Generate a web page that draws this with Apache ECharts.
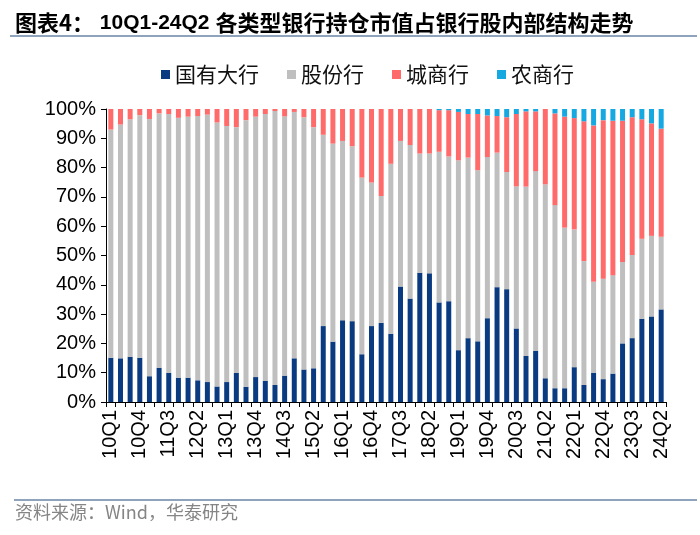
<!DOCTYPE html>
<html><head><meta charset="utf-8">
<script src="https://cdn.jsdelivr.net/npm/echarts@6/dist/echarts.min.js"></script>
<style>html,body{margin:0;padding:0;background:#fff}#c{width:700px;height:535px}</style>
</head><body><div id="c"></div>
<script>
const categories = (function(){const a=[];for(let y=10;y<=24;y++){for(let q=1;q<=4;q++){if(y===24&&q>2)break;a.push(y+'Q'+q);}}return a;})();
const seriesNames = ['国有大行','股份行','城商行','农商行'];
const stateOwned = [15.1,14.9,15.4,15.1,8.8,11.7,9.9,8.3,8.3,7.4,6.8,5.3,6.8,9.9,5.2,8.5,7.2,5.8,9.0,14.9,11.1,11.5,25.9,20.6,27.9,27.6,16.3,25.9,27.0,23.3,39.4,35.3,44.1,43.9,34.0,34.4,17.7,21.8,20.7,28.6,39.2,38.5,25.1,15.7,17.4,8.1,4.7,4.7,11.9,5.8,10.0,7.8,9.7,20.0,21.8,28.4,29.2,31.6];
const jointStock = [77.9,79.8,81.1,82.8,87.8,86.8,88.4,88.7,89.1,90.2,91.3,90.1,87.4,83.9,91.0,88.9,91.1,93.5,88.5,84.1,86.1,82.3,65.3,67.6,61.2,59.7,60.3,49.0,43.3,58.0,49.7,52.4,40.7,40.9,51.4,49.4,64.8,61.6,58.4,55.0,45.9,40.0,48.5,57.8,61.4,66.2,62.5,54.8,47.0,42.3,31.0,34.3,33.6,27.8,28.4,27.3,27.5,24.8];
const cityComm = [7.0,5.3,3.5,2.1,3.4,1.5,1.7,3.0,2.6,2.4,1.9,4.6,5.8,6.2,3.8,2.6,1.7,0.7,2.5,1.0,2.8,6.2,8.8,11.8,10.9,12.7,23.4,25.1,29.7,18.7,10.9,12.3,15.2,15.2,14.2,15.8,16.5,14.9,19.2,14.2,12.5,18.7,24.7,25.7,20.4,25.7,31.3,37.9,38.0,47.7,53.4,54.1,52.7,48.2,47.0,40.8,38.4,36.9];
const ruralComm = [0,0,0,0,0,0,0,0,0,0,0,0,0,0,0,0,0,0,0,0,0,0,0,0,0,0,0,0,0,0,0,0,0,0,0.4,0.4,1.0,1.7,1.7,2.2,2.4,2.8,1.7,0.8,0.8,0,1.5,2.6,3.1,4.2,5.6,3.8,4.0,4.0,2.8,3.5,4.9,6.7];
const yTicks = [0,10,20,30,40,50,60,70,80,90,100];

const colors = ['#0A3A80','#BFBFBF','#FF6B6B','#16A8E0'];
const allData = [stateOwned, jointStock, cityComm, ruralComm];
const FF = '"Liberation Sans","Noto Sans CJK SC",sans-serif';
const CJK = '"Noto Sans CJK SC","Liberation Sans",sans-serif';
const chart = echarts.init(document.getElementById('c'), null, {renderer:'canvas'});
chart.setOption({
  animation:false,
  backgroundColor:'#fff',
  title:{text:'{a|图表4：}{b| 10Q1-24Q2 }{a|各类型银行持仓市值占银行股内部结构走势}',left:10,top:7,
    textStyle:{rich:{
      a:{fontFamily:CJK,fontSize:22,fontWeight:'bold',color:'#000'},
      b:{fontFamily:FF,fontSize:21,fontWeight:'bold',color:'#000'}}}},
  legend:{data:seriesNames,top:59,left:156,icon:'rect',itemWidth:9,itemHeight:9,itemGap:28,
    textStyle:{fontFamily:CJK,fontSize:21,color:'#111'}},
  grid:{left:106,right:34,top:109,bottom:133,containLabel:false},
  xAxis:{type:'category',data:categories,
    axisLine:{lineStyle:{color:'#000',width:1}},
    axisTick:{show:true,interval:0,length:5,lineStyle:{color:'#000'}},
    axisLabel:{interval:2,rotate:90,fontFamily:FF,fontSize:20,color:'#000',margin:8}},
  yAxis:{type:'value',min:0,max:100,interval:10,
    axisLine:{show:true,lineStyle:{color:'#000'}},
    axisTick:{show:true,length:5,lineStyle:{color:'#000'}},
    splitLine:{show:false},
    axisLabel:{formatter:v=>yTicks.includes(v)?v+'%':'',fontFamily:FF,fontSize:20,color:'#000',margin:10}},
  series: seriesNames.map((n,i)=>({name:n,type:'bar',stack:'s',data:allData[i],barWidth:5,
    itemStyle:{color:colors[i]}})),
  graphic:[
    {type:'line',shape:{x1:10,y1:36,x2:697,y2:36},style:{stroke:'#8DA4BC',lineWidth:2}},
    {type:'line',shape:{x1:14,y1:500,x2:697,y2:500},style:{stroke:'#8DA4BC',lineWidth:2}},
    {type:'text',left:15,top:503,style:{text:'资料来源：Wind，华泰研究',fontFamily:CJK,fontSize:18,fill:'#858585'}}
  ]
});
</script></body></html>
